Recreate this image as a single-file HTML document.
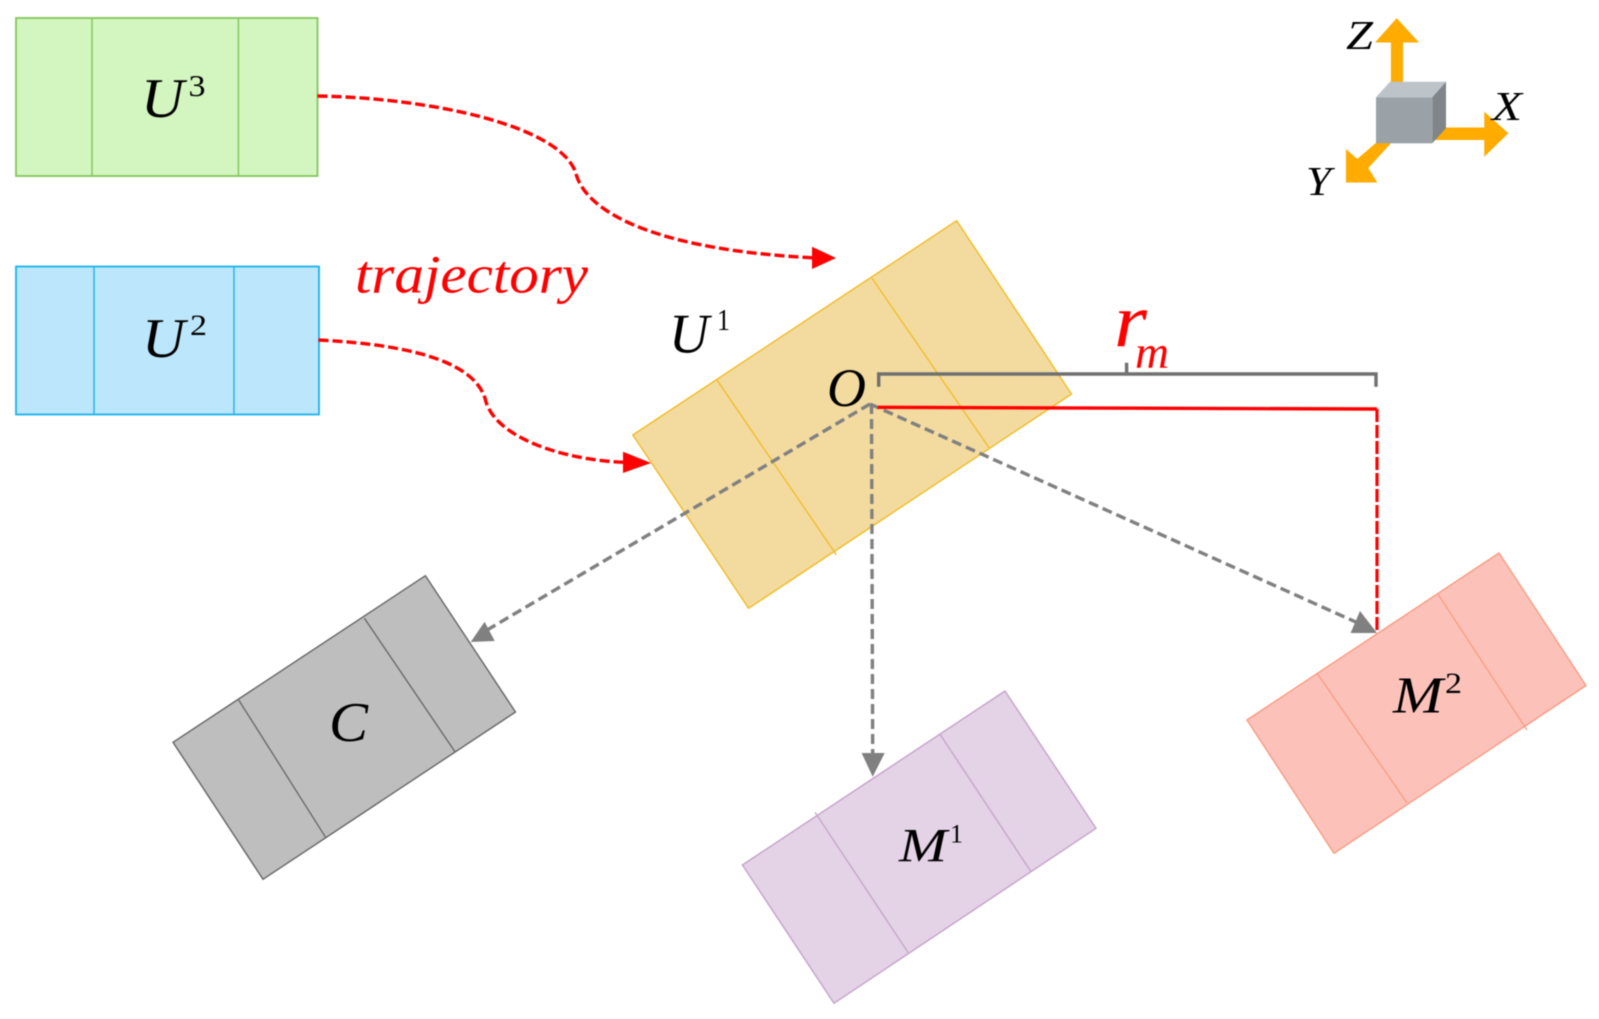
<!DOCTYPE html>
<html><head><meta charset="utf-8"><style>
html,body{margin:0;padding:0;background:#fff;width:1599px;height:1019px;overflow:hidden}
svg{display:block;filter:blur(.6px)}
text{font-family:"Liberation Serif",serif;font-style:italic;fill:#000}
text.n{font-style:normal}
text.r{fill:#f00}
</style></head><body>
<svg width="1599" height="1019" viewBox="0 0 1599 1019" xmlns="http://www.w3.org/2000/svg">
<rect width="1599" height="1019" fill="#fff"/>
<!-- green -->
<rect x="16" y="18" width="301.5" height="158" fill="#d3f5c0" stroke="#82c65a" stroke-width="1.8"/>
<path d="M92 18V176M238.4 18V176" stroke="#82c65a" stroke-width="1.4" fill="none"/>
<!-- blue -->
<rect x="16" y="266.5" width="303" height="148" fill="#bce6fb" stroke="#1ab3ee" stroke-width="1.8"/>
<path d="M94 266.5V414.5M234 266.5V414.5" stroke="#1ab3ee" stroke-width="1.4" fill="none"/>
<!-- U1 -->
<polygon points="956.7,220.7 1071.5,394 748.6,608.3 632.8,435" fill="#f3dba0" stroke="#f0bb22" stroke-width="1.4"/>
<path d="M872,278.3L989.4,448.3M717,380L836.5,555" stroke="#f0bb22" stroke-width="1.3" fill="none"/>
<!-- C -->
<polygon points="425.4,575.7 515.5,712 263,879.3 173,742.3" fill="#bebebe" stroke="#666" stroke-width="1.4"/>
<path d="M364.4,618.3L455,751.7M238.7,700L325.6,837.3" stroke="#666" stroke-width="1.3" fill="none"/>
<!-- M1 -->
<polygon points="1005,691 1096,828.3 834,1003.3 742.4,865" fill="#e4d2e6" stroke="#c4a3c9" stroke-width="1.4"/>
<path d="M940,734.3L1031,871.7M815,812.3L908,952.3" stroke="#c4a3c9" stroke-width="1.3" fill="none"/>
<!-- M2 -->
<polygon points="1499,553 1586,685.5 1334,853.3 1247,720" fill="#fcc2ba" stroke="#f89b80" stroke-width="1.4"/>
<path d="M1438,594.3L1527,730M1317,673.3L1407,802.7" stroke="#f89b80" stroke-width="1.3" fill="none"/>
<!-- red curves -->
<path d="M317.5,96 C430,98 558,125 575.5,172 C584,210 650,250 817,258" fill="none" stroke="#f00" stroke-width="3.4" stroke-dasharray="10 4"/>
<polygon points="812,246.7 836,258 812,269" fill="#f00"/>
<path d="M318.4,340 C420,345 478,365 486,402 C497,437 560,460 627,462.5" fill="none" stroke="#f00" stroke-width="3.4" stroke-dasharray="10 4"/>
<polygon points="623,451.7 651,463 623,473" fill="#f00"/>
<!-- gray dashed -->
<g fill="none" stroke="#808080" stroke-width="3.4" stroke-dasharray="10 5">
<path d="M870,404L482,633"/>
<path d="M871.5,404L872.7,756"/>
<path d="M870,404L1358,623"/>
</g>
<polygon points="484.6,621.7 494.7,641 470.7,642" fill="#808080"/>
<polygon points="861.6,753 884.7,753 872.7,776.7" fill="#808080"/>
<polygon points="1360,611 1350.6,633 1377,633" fill="#808080"/>
<!-- bracket -->
<path d="M878.7,386.7V374H1376V386.7M1126.6,374V362.7" fill="none" stroke="#707070" stroke-width="3.4"/>
<!-- red rm -->
<path d="M877.7,407.3L1377,409" fill="none" stroke="#f00" stroke-width="3.4"/>
<path d="M1377,409V630" fill="none" stroke="#f00" stroke-width="3.2" stroke-dasharray="13 3"/>
<!-- axes -->
<path d="M1391.7,82V41.7H1376.7L1396.7,19.3L1417.3,41.7H1402.3V82Z" fill="#ffab00" stroke="#ffab00" stroke-width="1.5"/>
<path d="M1436.7,128.3H1485V113.3L1507.3,133.3L1485,155V139.3H1432Z" fill="#ffab00" stroke="#ffab00" stroke-width="1.5"/>
<path d="M1376.7,143.3H1390L1367.3,168L1376,181.7H1346.7V150.7L1357.3,160Z" fill="#ffab00" stroke="#ffab00" stroke-width="1.5"/>
<polygon points="1376,97.3 1390,81.7 1446,81.7 1432.3,97.3" fill="#bcc3c9"/>
<polygon points="1432.3,97.3 1446,81.7 1446,128.3 1432.3,143.3" fill="#7f8589"/>
<rect x="1376" y="97.3" width="56.3" height="46" fill="#9aa1a7"/>
<!-- labels -->
<text x="141" y="117" font-size="56" textLength="43" lengthAdjust="spacingAndGlyphs">U</text>
<text class="n" x="188.5" y="96" font-size="31" textLength="17" lengthAdjust="spacingAndGlyphs">3</text>
<text x="142" y="357" font-size="56" textLength="43" lengthAdjust="spacingAndGlyphs">U</text>
<text class="n" x="190" y="335" font-size="30" textLength="17" lengthAdjust="spacingAndGlyphs">2</text>
<text x="669" y="352.5" font-size="56" textLength="40" lengthAdjust="spacingAndGlyphs">U</text>
<text class="n" x="717" y="330" font-size="31" textLength="13" lengthAdjust="spacingAndGlyphs">1</text>
<text class="r" x="355" y="292.7" font-size="54" textLength="233" lengthAdjust="spacingAndGlyphs">trajectory</text>
<text x="827" y="406" font-size="54" textLength="39" lengthAdjust="spacingAndGlyphs">O</text>
<text class="r" x="1114" y="346.7" font-size="76" textLength="33" lengthAdjust="spacingAndGlyphs">r</text>
<text class="r" x="1135" y="368" font-size="47" textLength="34" lengthAdjust="spacingAndGlyphs">m</text>
<text x="329" y="741" font-size="56" textLength="39" lengthAdjust="spacingAndGlyphs">C</text>
<text x="899" y="861.5" font-size="48" textLength="48" lengthAdjust="spacingAndGlyphs">M</text>
<text class="n" x="950" y="842.5" font-size="26" textLength="13" lengthAdjust="spacingAndGlyphs">1</text>
<text x="1393" y="712.5" font-size="52" textLength="50" lengthAdjust="spacingAndGlyphs">M</text>
<text class="n" x="1445" y="693" font-size="30" textLength="17" lengthAdjust="spacingAndGlyphs">2</text>
<text x="1346" y="49" font-size="41" textLength="27" lengthAdjust="spacingAndGlyphs">Z</text>
<text x="1492" y="120" font-size="41" textLength="30" lengthAdjust="spacingAndGlyphs">X</text>
<text x="1306" y="195" font-size="41" textLength="25" lengthAdjust="spacingAndGlyphs">Y</text>
</svg>
</body></html>
